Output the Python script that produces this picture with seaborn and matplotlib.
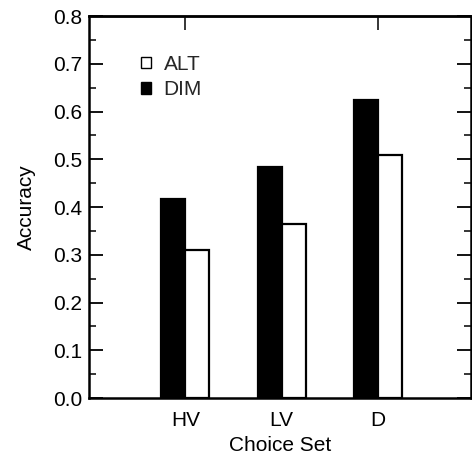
import pandas as pd
import matplotlib
matplotlib.use("Agg")
import matplotlib.pyplot as plt
import seaborn as sns
from matplotlib.patches import Patch
from matplotlib.ticker import MultipleLocator

# --- Dados ---
choice_sets = ["HV", "LV", "D"]
acc_dim = [0.417, 0.483, 0.624]
acc_alt = [0.310, 0.364, 0.509]

df = pd.DataFrame({
    "Choice Set": choice_sets * 2,
    "Accuracy": acc_dim + acc_alt,
    "Rule": ["DIM"] * 3 + ["ALT"] * 3,
})

sns.set_theme(style="white")
plt.rcParams["font.family"] = ["Liberation Sans", "DejaVu Sans"]
fs = 15

fig = plt.figure(figsize=(4.72, 4.58), dpi=100)
ax = fig.add_axes([0.189, 0.131, 0.809, 0.834])

sns.barplot(data=df, x="Choice Set", y="Accuracy", hue="Rule",
            order=choice_sets, hue_order=["DIM", "ALT"],
            palette={"DIM": "black", "ALT": "white"},
            width=0.5, edgecolor="black", linewidth=1.6,
            saturation=1, ax=ax, legend=False)

ax.set_xlim(-1, 2.97)
ax.set_ylim(0, 0.8)
ax.yaxis.set_major_locator(MultipleLocator(0.1))
ax.yaxis.set_minor_locator(MultipleLocator(0.05))
ax.yaxis.set_major_formatter(matplotlib.ticker.FormatStrFormatter("%.1f"))

for sp in ax.spines.values():
    sp.set_visible(True)
    sp.set_color("black")
    sp.set_linewidth(1.8)

ax.tick_params(axis="y", which="both", direction="in", left=True, right=True,
               labelsize=fs, colors="black", pad=5)
ax.tick_params(axis="y", which="major", length=10, width=1.3)
ax.tick_params(axis="y", which="minor", length=5, width=1.1)
ax.tick_params(axis="x", length=0, labelsize=fs, pad=9, colors="black")

# ticks no eixo superior
top = ax.secondary_xaxis("top")
top.set_xticks([0, 2])
top.set_xticklabels([])
top.tick_params(direction="in", length=10, width=1.3)
top.spines["top"].set_linewidth(1.8)

ax.set_xlabel("Choice Set", fontsize=fs, labelpad=5, color="black")
ax.set_ylabel("Accuracy", fontsize=fs, labelpad=12, color="black")

handles = [Patch(facecolor="white", edgecolor="black", linewidth=1.0, label="ALT"),
           Patch(facecolor="black", edgecolor="black", label="DIM")]
ax.legend(handles=handles, loc="upper left", bbox_to_anchor=(0.113, 0.92),
          frameon=False, fontsize=fs, handlelength=0.5, handleheight=0.5,
          handletextpad=0.6, labelspacing=0.3, borderaxespad=0)

plt.savefig("out.png", dpi=100)
plt.close()
